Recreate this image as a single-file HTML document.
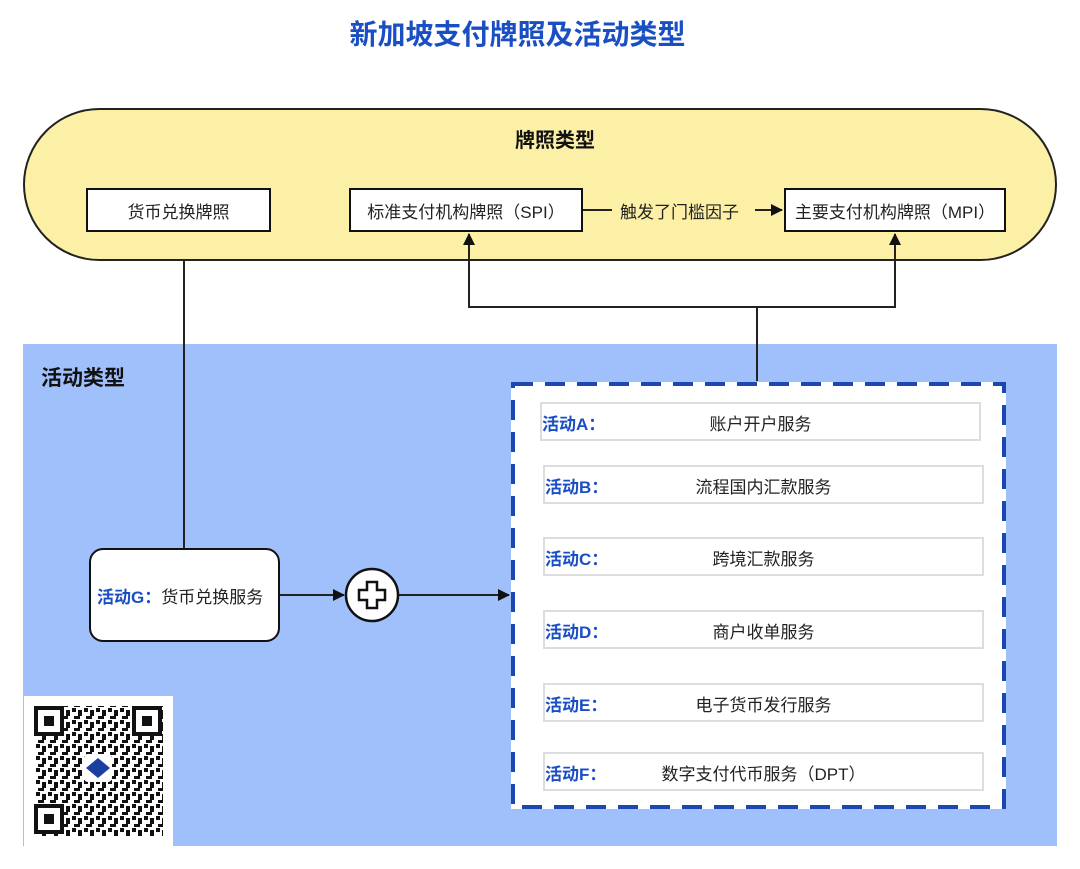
<!DOCTYPE html>
<html><head><meta charset="utf-8"><style>
*{margin:0;padding:0;box-sizing:border-box}
body{width:1080px;height:869px;background:#fff;position:relative;overflow:hidden;font-family:"Liberation Sans","Noto Sans CJK SC",sans-serif;color:#222}
.a{position:absolute}
.box{position:absolute;background:#fff;border:2px solid #111;display:flex;align-items:center;justify-content:center;font-size:16px}
.row{position:absolute;background:#fff;border:2px solid #ddd;font-size:17px}
.row b{position:absolute;left:0;top:6px;color:#1a4fc4;font-weight:bold;font-size:17px}
.row span{position:absolute;left:0;right:0;top:6px;text-align:center}
</style></head><body>
<div class="a" style="left:0;width:1035px;top:13px;text-align:center;font-size:28px;font-weight:bold;color:#1a4fc4">新加坡支付牌照及活动类型</div>
<div class="a" style="left:23px;top:108px;width:1034px;height:153px;background:#fcefa6;border:2px solid #222;border-radius:77px"></div>
<div class="a" style="left:0;width:1110px;top:124px;text-align:center;font-size:20px;font-weight:bold;color:#111">牌照类型</div>
<div class="box" style="left:86px;top:188px;width:185px;height:44px;font-size:17px">货币兑换牌照</div>
<div class="box" style="left:349px;top:188px;width:234px;height:44px;font-size:17px">标准支付机构牌照（SPI）</div>
<div class="box" style="left:784px;top:188px;width:222px;height:44px;font-size:17px">主要支付机构牌照（MPI）</div>
<div class="a" style="left:620px;top:198px;font-size:17px">触发了门槛因子</div>
<div class="a" style="left:23px;top:344px;width:1034px;height:502px;background:#a0c0fc"></div>
<div class="a" style="left:41px;top:362px;font-size:21px;font-weight:bold;color:#111">活动类型</div>
<div class="a" style="left:511px;top:382px;width:495px;height:427px;background:#fff"></div>
<svg class="a" style="left:511px;top:382px" width="495" height="427"><rect x="2" y="2" width="491" height="423" fill="none" stroke="#1a47b0" stroke-width="4" stroke-dasharray="20,12"/></svg>
<div class="row" style="left:540px;top:402px;width:441px;height:39px"><b>活动A：</b><span>账户开户服务</span></div>
<div class="row" style="left:543px;top:465px;width:441px;height:39px"><b>活动B：</b><span>流程国内汇款服务</span></div>
<div class="row" style="left:543px;top:537px;width:441px;height:39px"><b>活动C：</b><span>跨境汇款服务</span></div>
<div class="row" style="left:543px;top:610px;width:441px;height:39px"><b>活动D：</b><span>商户收单服务</span></div>
<div class="row" style="left:543px;top:683px;width:441px;height:39px"><b>活动E：</b><span>电子货币发行服务</span></div>
<div class="row" style="left:543px;top:752px;width:441px;height:39px"><b>活动F：</b><span>数字支付代币服务（DPT）</span></div>
<div class="a" style="left:89px;top:548px;width:191px;height:94px;background:#fff;border:2px solid #111;border-radius:14px;font-size:17px;padding:33px 0 0 6px;white-space:nowrap"><b style="color:#1a4fc4">活动G：</b>货币兑换服务</div>
<svg class="a" style="left:0;top:0" width="1080" height="869">
<defs><marker id="m" markerWidth="12" markerHeight="12" refX="11" refY="6" orient="auto" markerUnits="userSpaceOnUse"><path d="M0,0L12,6L0,12z" fill="#111"/></marker></defs>
<g stroke="#222" stroke-width="2" fill="none">
<line x1="184" y1="261" x2="184" y2="548"/>
<polyline points="757,381 757,307 469,307 469,234" marker-end="url(#m)"/>
<polyline points="757,307 895,307 895,234" marker-end="url(#m)"/>
<line x1="583" y1="210" x2="612" y2="210"/>
<line x1="755" y1="210" x2="782" y2="210" marker-end="url(#m)"/>
<line x1="280" y1="595" x2="344" y2="595" marker-end="url(#m)"/>
<line x1="398" y1="595" x2="509" y2="595" marker-end="url(#m)"/>
</g>
<circle cx="372" cy="595" r="26" fill="#fff" stroke="#111" stroke-width="2.5"/>
<path d="M367,582h10v8h8v10h-8v8h-10v-8h-8v-10h8z" fill="#fff" stroke="#111" stroke-width="2.5"/>
<rect x="24" y="696" width="149" height="150" fill="#fff"/>
<defs><pattern id="q" width="12" height="12" patternUnits="userSpaceOnUse"><rect width="4" height="4" fill="#111"/><rect x="6" y="2" width="4" height="6" fill="#111"/><rect x="2" y="8" width="6" height="3" fill="#111"/></pattern></defs>
<rect x="34" y="706" width="129" height="130" fill="url(#q)"/>
<g fill="#fff" stroke="#111" stroke-width="4">
<rect x="36" y="708" width="26" height="26"/><rect x="134" y="708" width="26" height="26"/><rect x="36" y="806" width="26" height="26"/></g>
<rect x="44" y="716" width="10" height="10" fill="#111"/><rect x="142" y="716" width="10" height="10" fill="#111"/><rect x="44" y="814" width="10" height="10" fill="#111"/>
<rect x="84" y="754" width="28" height="28" rx="4" fill="#fff"/>
<path d="M98,758L110,768L98,778L86,768z" fill="#1a3fa0"/>
</svg>
</body></html>
